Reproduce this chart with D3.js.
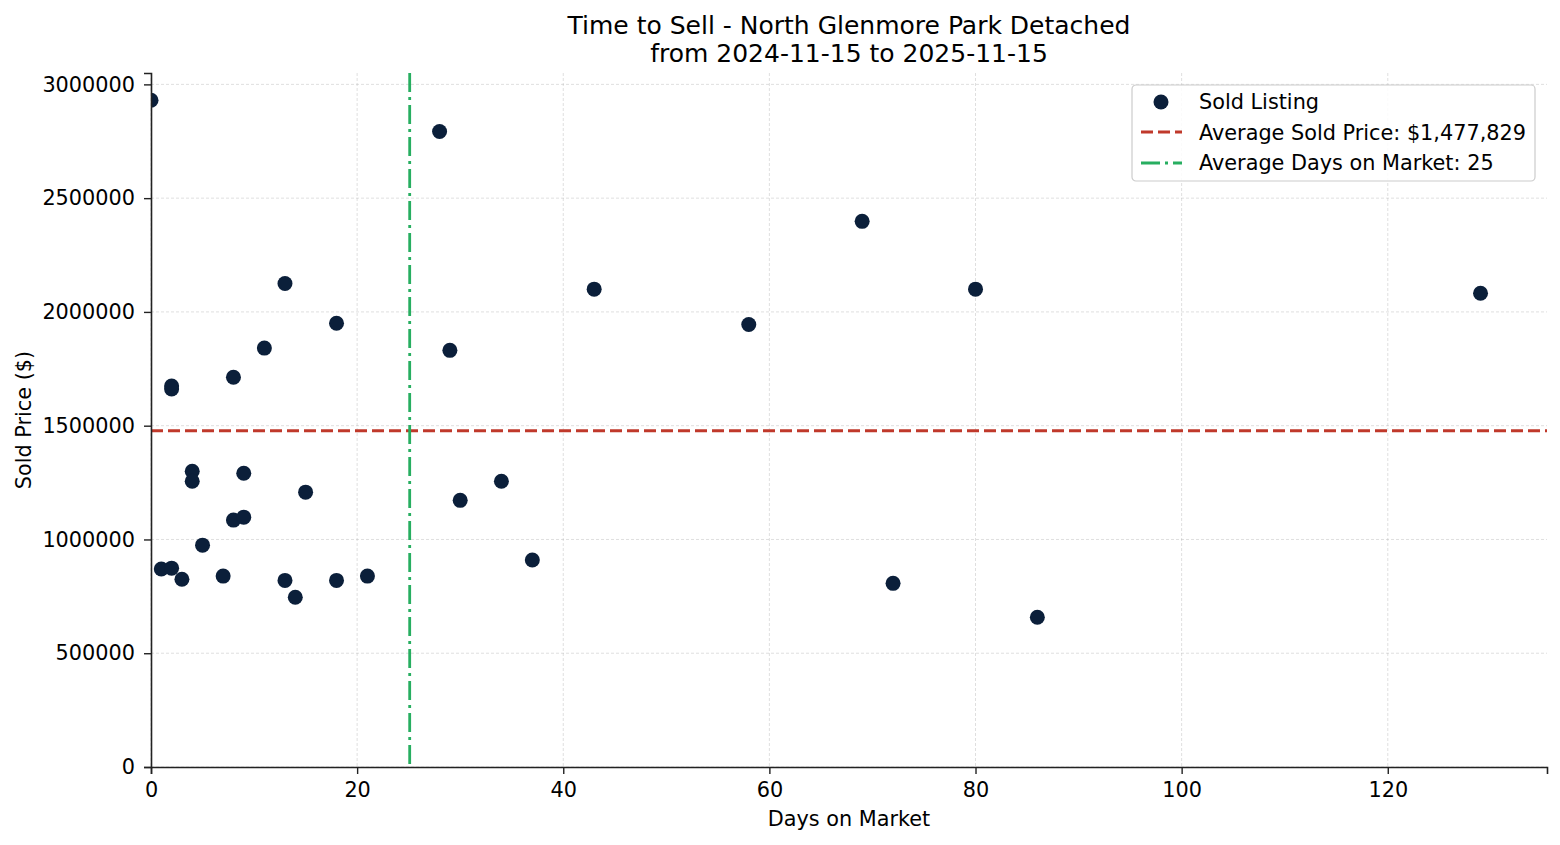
<!DOCTYPE html>
<html>
<head>
<meta charset="utf-8">
<script src="https://cdn.jsdelivr.net/npm/d3@7"></script>
<style>
  body { margin: 0; background: #fff; }
  svg { font-family: "DejaVu Sans", sans-serif; }
</style>
</head>
<body>
<svg id="chart" width="1560" height="845"></svg>
<script>
// days on market for each sold listing
const days = [0, 28, 13, 18, 11, 8, 2, 2, 29, 43, 58, 69, 80, 129,
  4, 4, 9, 15, 30, 34, 8, 9, 5, 1, 2, 3, 7, 13, 14, 18, 21, 37, 72, 86];
// sold price, same order
const prices = [2930000, 2793000, 2125000, 1950000, 1841000, 1713000, 1674000, 1661000,
  1831000, 2100000, 1945000, 2398000, 2100000, 2082000,
  1300000, 1256000, 1291000, 1208000, 1172000, 1256000, 1085000, 1098000,
  975000, 870000, 874000, 825000, 839000, 820000, 746000, 820000, 839000,
  910000, 807000, 658000];
const avgPrice = 1477829;
const avgDays = 25.1;
const xTicks = [0, 20, 40, 60, 80, 100, 120];
const yTicks = [0, 500000, 1000000, 1500000, 2000000, 2500000, 3000000];

const svg = d3.select('#chart');
const margin = { top: 73, right: 13, bottom: 78, left: 151 };
const width = 1560, height = 845;
const fs = 20.8;
const redDash = '12,5';
const greenDash = '19,5,3,5';

const x = d3.scaleLinear().domain([0, 135.45]).range([margin.left, width - margin.right]);
const y = d3.scaleLinear().domain([0, 3050000]).range([height - margin.bottom, margin.top]);

const listings = days.map((d, i) => ({ days: d, price: prices[i] }));

svg.append('defs').append('clipPath').attr('id', 'clip')
  .append('rect')
  .attr('x', margin.left).attr('y', margin.top)
  .attr('width', width - margin.left - margin.right)
  .attr('height', height - margin.top - margin.bottom);

// grid
const grid = svg.append('g').attr('stroke', '#b0b0b0').attr('stroke-opacity', 0.5)
  .attr('stroke-width', 0.8).attr('stroke-dasharray', '3,2');
grid.selectAll('.gx').data(xTicks).join('line')
  .attr('x1', (d) => x(d)).attr('x2', (d) => x(d))
  .attr('y1', margin.top).attr('y2', height - margin.bottom);
grid.selectAll('.gy').data(yTicks).join('line')
  .attr('y1', (d) => y(d)).attr('y2', (d) => y(d))
  .attr('x1', margin.left).attr('x2', width - margin.right);

const plot = svg.append('g').attr('clip-path', 'url(#clip)');

plot.append('line')
  .attr('x1', margin.left).attr('x2', width - margin.right)
  .attr('y1', y(avgPrice)).attr('y2', y(avgPrice))
  .attr('stroke', '#c0392b').attr('stroke-width', 2.8)
  .attr('stroke-dasharray', redDash);

plot.append('line')
  .attr('x1', x(avgDays)).attr('x2', x(avgDays))
  .attr('y1', margin.top).attr('y2', height - margin.bottom)
  .attr('stroke', '#27ae60').attr('stroke-width', 2.8)
  .attr('stroke-dasharray', greenDash);

plot.selectAll('.dot').data(listings).join('circle')
  .attr('class', 'dot')
  .attr('cx', (d) => x(d.days))
  .attr('cy', (d) => y(d.price))
  .attr('r', 7.5)
  .attr('fill', '#0b1f3a');

// axes
const xAxis = svg.append('g')
  .attr('transform', `translate(0,${height - margin.bottom})`)
  .call(d3.axisBottom(x).tickValues(xTicks).tickSizeOuter(0).tickSize(7).tickPadding(8));
const yAxis = svg.append('g')
  .attr('transform', `translate(${margin.left},0)`)
  .call(d3.axisLeft(y).tickValues(yTicks).tickFormat(d3.format('d')).tickSizeOuter(0).tickSize(7).tickPadding(9));

[xAxis, yAxis].forEach((g) => {
  g.selectAll('text').attr('font-size', fs).attr('fill', '#000')
    .attr('font-family', '"DejaVu Sans", sans-serif');
  g.selectAll('line').attr('stroke', '#222').attr('stroke-width', 1.4);
  g.select('.domain').attr('stroke', '#222').attr('stroke-width', 1.6);
});

// labels
svg.append('text')
  .attr('x', (margin.left + width - margin.right) / 2).attr('y', 826)
  .attr('text-anchor', 'middle').attr('font-size', fs)
  .text('Days on Market');
svg.append('text')
  .attr('transform', `translate(31,${(margin.top + height - margin.bottom) / 2}) rotate(-90)`)
  .attr('text-anchor', 'middle').attr('font-size', fs)
  .text('Sold Price ($)');

const title = svg.append('text')
  .attr('text-anchor', 'middle').attr('font-size', 25);
title.append('tspan').attr('x', (margin.left + width - margin.right) / 2).attr('y', 34)
  .text('Time to Sell - North Glenmore Park Detached');
title.append('tspan').attr('x', (margin.left + width - margin.right) / 2).attr('y', 62)
  .text('from 2024-11-15 to 2025-11-15');

// legend
const legend = svg.append('g').attr('transform', 'translate(1132,85)');
legend.append('rect')
  .attr('width', 403).attr('height', 96).attr('rx', 4)
  .attr('fill', '#fff').attr('fill-opacity', 0.85)
  .attr('stroke', '#cccccc').attr('stroke-width', 1.2);
legend.append('circle').attr('cx', 29).attr('cy', 17).attr('r', 7.5).attr('fill', '#0b1f3a');
legend.append('line').attr('x1', 9).attr('x2', 50).attr('y1', 47).attr('y2', 47)
  .attr('stroke', '#c0392b').attr('stroke-width', 2.8).attr('stroke-dasharray', redDash);
legend.append('line').attr('x1', 9).attr('x2', 50).attr('y1', 78).attr('y2', 78)
  .attr('stroke', '#27ae60').attr('stroke-width', 2.8).attr('stroke-dasharray', greenDash);
const legendLabels = ['Sold Listing',
  `Average Sold Price: $${d3.format(',')(avgPrice)}`,
  `Average Days on Market: ${Math.round(avgDays)}`];
legend.selectAll('.lt').data(legendLabels).join('text')
  .attr('x', 67).attr('y', (d, i) => 17 + i * 30.5)
  .attr('dy', '0.35em').attr('font-size', fs)
  .text((d) => d);
</script>
</body>
</html>
